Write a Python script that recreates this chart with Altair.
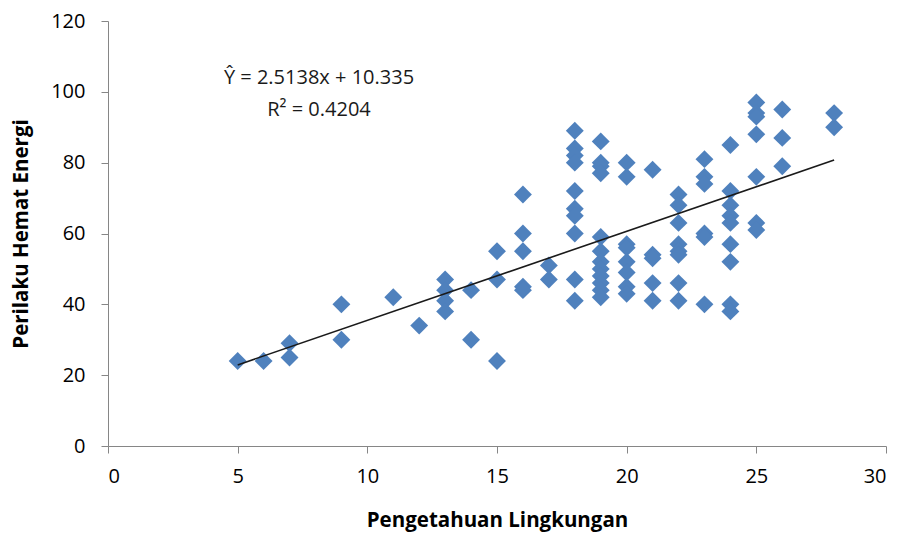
import altair as alt
import pandas as pd

# Pengetahuan Lingkungan (x) and Perilaku Hemat Energi (y)
x_vals = [5, 6, 7, 7, 9, 9, 11, 12,
          13, 13, 13, 13, 14, 14, 15, 15, 15,
          16, 16, 16, 16, 16, 17, 17,
          18, 18, 18, 18, 18, 18, 18, 18, 18, 18,
          19, 19, 19, 19, 19, 19, 19, 19, 19, 19, 19, 19,
          20, 20, 20, 20, 20, 20, 20, 20,
          21, 21, 21, 21, 21,
          22, 22, 22, 22, 22, 22, 22, 22,
          23, 23, 23, 23, 23, 23,
          24, 24, 24, 24, 24, 24, 24, 24, 24,
          25, 25, 25, 25, 25, 25, 25,
          26, 26, 26, 28, 28]
y_vals = [24, 24, 29, 25, 40, 30, 42, 34,
          47, 44, 41, 38, 44, 30, 55, 47, 24,
          71, 60, 55, 45, 44, 51, 47,
          89, 84, 82, 80, 72, 67, 65, 60, 47, 41,
          86, 80, 79, 77, 59, 55, 52, 50, 48, 46, 44, 42,
          80, 76, 57, 56, 52, 49, 45, 43,
          78, 54, 53, 46, 41,
          71, 68, 63, 57, 55, 54, 46, 41,
          81, 76, 74, 60, 59, 40,
          85, 72, 68, 65, 63, 57, 52, 40, 38,
          97, 94, 93, 88, 76, 63, 61,
          95, 87, 79, 94, 90]

slope = 2.5138
intercept = 10.335
r_squared = 0.4204

x_ticks = [0, 5, 10, 15, 20, 25, 30]
y_ticks = [0, 20, 40, 60, 80, 100, 120]

df = pd.DataFrame({"x": x_vals, "y": y_vals})
line_df = pd.DataFrame({"x": [min(x_vals), max(x_vals)]})

FONT = "Open Sans"

xscale = alt.Scale(domain=[0, 30], nice=False, zero=True)
yscale = alt.Scale(domain=[0, 120], nice=False, zero=True)

xaxis = alt.Axis(values=x_ticks, title="Pengetahuan Lingkungan", grid=False,
                 domainColor="#868686", tickColor="#868686", tickSize=7,
                 labelFont=FONT, labelFontSize=20, labelColor="#000000",
                 labelPadding=13, titleFont=FONT, titleFontSize=20.5,
                 titleFontWeight="bold", titleColor="#000000", titlePadding=24)
yaxis = alt.Axis(values=y_ticks, title="Perilaku Hemat Energi", grid=False,
                 domainColor="#868686", tickColor="#868686", tickSize=7,
                 labelFont=FONT, labelFontSize=20, labelColor="#000000",
                 labelPadding=16, titleFont=FONT, titleFontSize=20.5,
                 titleFontWeight="bold", titleColor="#000000", titlePadding=19)

points = alt.Chart(df).mark_point(shape="diamond", filled=True, opacity=1,
                                  color="#4F81BD", size=320).encode(
    x=alt.X("x:Q", scale=xscale, axis=xaxis),
    y=alt.Y("y:Q", scale=yscale, axis=yaxis),
)

trend = alt.Chart(line_df).transform_calculate(
    yhat=f"{slope} * datum.x + {intercept}"
).mark_line(color="#1a1a1a", strokeWidth=1.6).encode(
    x=alt.X("x:Q", scale=xscale),
    y=alt.Y("yhat:Q", scale=yscale),
)

eq_df = pd.DataFrame({"t": [f"Ŷ = {slope}x + {intercept}"]})
r2_df = pd.DataFrame({"t": [f"R² = {r_squared}"]})

eq_text = alt.Chart(eq_df).mark_text(font=FONT, fontSize=20, color="#1a1a1a",
                                     align="center", baseline="middle").encode(
    text="t:N", x=alt.value(211), y=alt.value(57))
r2_text = alt.Chart(r2_df).mark_text(font=FONT, fontSize=20, color="#1a1a1a",
                                     align="center", baseline="middle").encode(
    text="t:N", x=alt.value(211), y=alt.value(89))

chart = alt.layer(points, trend, eq_text, r2_text).properties(
    width=778, height=425,
    autosize=alt.AutoSizeParams(type="none"),
    padding={"left": 108, "top": 21, "right": 18, "bottom": 87},
    background="white",
).configure_view(stroke=None)

chart.save("out.html", embed_options={"renderer": "svg", "actions": False})
